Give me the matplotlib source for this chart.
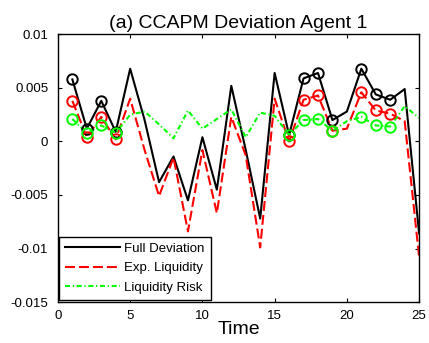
import matplotlib
matplotlib.use("Agg")
import matplotlib.pyplot as plt

plt.rcParams['font.family'] = ['Liberation Sans', 'DejaVu Sans']

# data
time = list(range(1, 26))
full_dev = [0.0058, 0.0012, 0.0038, 0.0009, 0.0068, 0.0020, -0.0038, -0.0014, -0.0055, 0.0004,
            -0.0045, 0.0052, -0.0008, -0.0072, 0.0064, 0.0006, 0.0059, 0.0064, 0.0020, 0.0028,
            0.0068, 0.0044, 0.0039, 0.0049, -0.0086]
exp_liq = [0.0038, 0.0004, 0.0023, 0.0002, 0.0040, -0.0008, -0.0051, -0.0015, -0.0084, -0.0008,
           -0.0067, 0.0023, -0.0013, -0.0099, 0.0040, 0.0000, 0.0039, 0.0043, 0.0010, 0.0012,
           0.0046, 0.0029, 0.0026, 0.0019, -0.0108]
liq_risk = [0.0021, 0.0008, 0.0015, 0.0008, 0.0025, 0.0028, 0.0016, 0.0003, 0.0029, 0.0012,
            0.0021, 0.0030, 0.0004, 0.0027, 0.0024, 0.0006, 0.0020, 0.0021, 0.0010, 0.0019,
            0.0023, 0.0015, 0.0014, 0.0033, 0.0022]
# periods marked with circles
marked = [1, 2, 3, 4, 16, 17, 18, 19, 21, 22, 23]

fig = plt.figure(figsize=(4.29, 3.43), dpi=100)
ax = fig.add_axes([0.135, 0.1195, 0.842, 0.78])

series = [
    (full_dev, 'k', '-', 'Full Deviation'),
    (exp_liq, (1, 0, 0), (0, (4.8, 1.9)), 'Exp. Liquidity'),
    (liq_risk, (0, 1, 0), (0, (2.4, 1.3, 0.6, 1.3)), 'Liquidity Risk'),
]
for vals, col, ls, lab in series:
    ax.plot(time, vals, color=col, linestyle=ls, lw=1.5, label=lab)
for vals, col, ls, lab in series:
    my = [vals[t - 1] for t in marked]
    ax.plot(marked, my, linestyle='none', marker='o', ms=7.5, mfc='none',
            mec=col, mew=1.4)

ax.set_xlim(0, 25)
ax.set_ylim(-0.015, 0.01)
ax.set_xticks([0, 5, 10, 15, 20, 25])
ax.set_yticks([-0.015, -0.01, -0.005, 0, 0.005, 0.01])
ax.set_yticklabels(['-0.015', '-0.01', '-0.005', '0', '0.005', '0.01'])
ax.tick_params(direction='in', top=True, right=True, length=3, labelsize=9.5)
ax.tick_params(axis='y', pad=7)
ax.tick_params(axis='x', pad=6)
for sp in ax.spines.values():
    sp.set_linewidth(1.0)

ax.set_title('(a) CCAPM Deviation Agent 1', fontsize=14, pad=5)
ax.set_xlabel('Time', fontsize=14, labelpad=-1)

leg = ax.legend(loc='lower left', bbox_to_anchor=(0.003, 0.008), borderaxespad=0,
                fontsize=9.5, handlelength=4.2, fancybox=False, framealpha=1,
                edgecolor='k', borderpad=0.45, labelspacing=0.55, handletextpad=0.3)
leg.get_frame().set_linewidth(1.0)

fig.savefig('out.png', dpi=100)
